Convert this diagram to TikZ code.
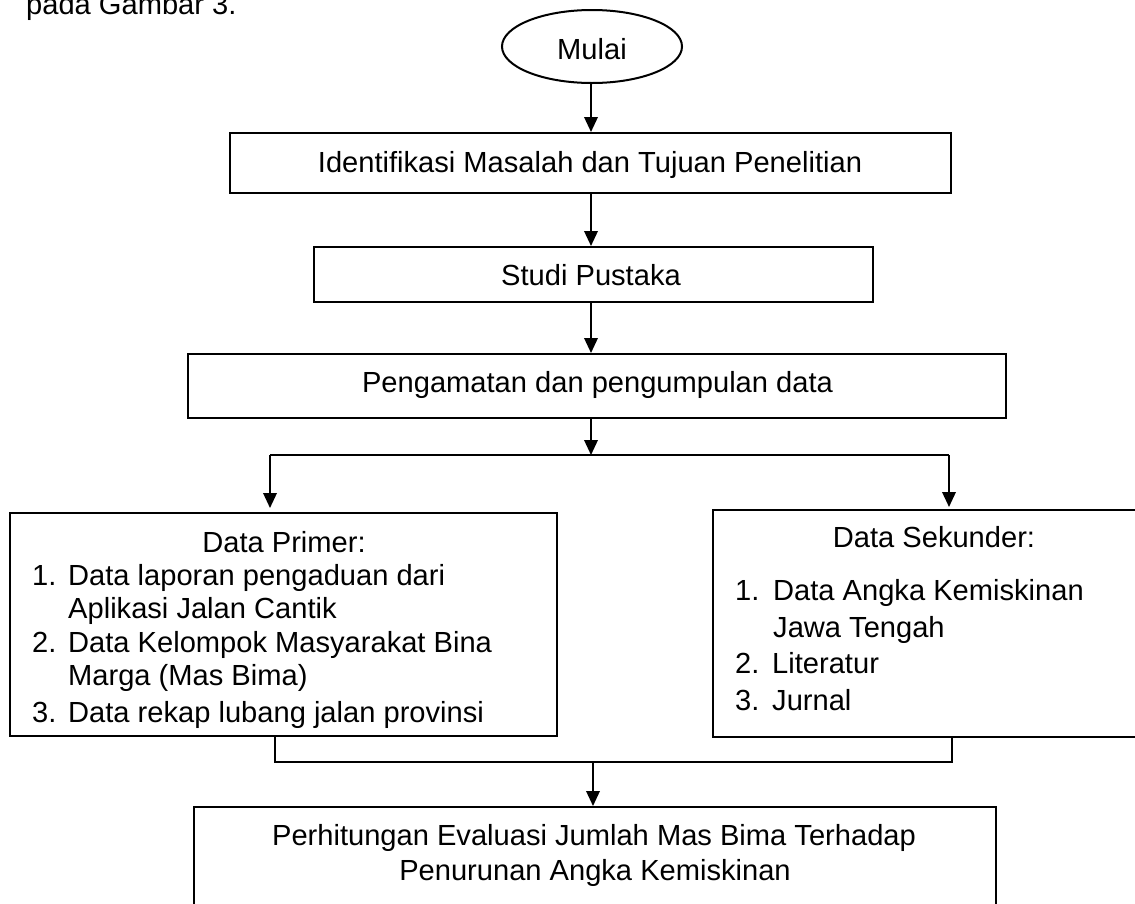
\documentclass[tikz,border=0pt]{standalone}
\usepackage{fontspec}
\setmainfont{Liberation Sans}
\usetikzlibrary{arrows.meta,shapes.geometric}
\begin{document}
\begin{tikzpicture}[x=1pt,y=-1pt,
  every node/.style={font=\fontsize{29.1}{35}\selectfont},
  box/.style={draw,line width=2pt,rectangle,inner sep=0pt},
  txt/.style={inner sep=0pt,anchor=base},
  itm/.style={inner sep=0pt,anchor=base west},
  arr/.style={line width=2pt,-{Triangle[length=15pt,width=13.5pt]}},
  ln/.style={line width=1.4pt},
  hl/.style={line width=2pt}]
\clip (0,0) rectangle (1135,903);
\fill[white] (0,0) rectangle (1135,903);

% title fragment
\node[itm] (t0) at (26,14) {pada Gambar 3.};

% start
\node[draw,ellipse,line width=2pt,minimum width=180pt,minimum height=73pt,inner sep=0pt] (e) at (592,46.5) {};
\node[txt] (et) at (592,59) {Mulai};

% boxes
\node[box,minimum width=721pt,minimum height=60pt] (b1) at (590.5,163) {};
\node[txt] (b1t) at (590,172) {Identifikasi Masalah dan Tujuan Penelitian};

\node[box,minimum width=559pt,minimum height=55pt] (b2) at (593.5,274.5) {};
\node[txt] (b2t) at (591,285) {Studi Pustaka};

\node[box,minimum width=818pt,minimum height=64pt] (b3) at (597,386) {};
\node[txt] (b3t) at (597.5,392) {Pengamatan dan pengumpulan data};

\node[box,minimum width=547pt,minimum height=223pt] (pL) at (283.5,624.5) {};
\node[txt] (pLt) at (284,552) {Data Primer:};
\node[itm] (p1n) at (32,585) {1.};
\node[itm] (p1a) at (68,585) {Data laporan pengaduan dari};
\node[itm] (p1b) at (68,618) {Aplikasi Jalan Cantik};
\node[itm] (p2n) at (32,652) {2.};
\node[itm] (p2a) at (68,652) {Data Kelompok Masyarakat Bina};
\node[itm] (p2b) at (68,685) {Marga (Mas Bima)};
\node[itm] (p3n) at (32,722) {3.};
\node[itm] (p3a) at (68,722) {Data rekap lubang jalan provinsi};

\node[box,minimum width=442pt,minimum height=227pt] (sK) at (934,623.5) {};
\node[txt] (sKt) at (934,547) {Data Sekunder:};
\node[itm] (s1n) at (735,600) {1.};
\node[itm] (s1a) at (773,600) {Data Angka Kemiskinan};
\node[itm] (s1b) at (773,637) {Jawa Tengah};
\node[itm] (s2n) at (735,673) {2.};
\node[itm] (s2a) at (772,673) {Literatur};
\node[itm] (s3n) at (735,710) {3.};
\node[itm] (s3a) at (772,710) {Jurnal};

\node[box,minimum width=802pt,minimum height=146pt] (bB) at (595,880) {};
\node[txt] (bB1) at (594,845) {Perhitungan Evaluasi Jumlah Mas Bima Terhadap};
\node[txt] (bB2) at (595,880) {Penurunan Angka Kemiskinan};

% connectors
\coordinate (ax) at (591,0);
\coordinate (j) at (591,455);
\coordinate (jl) at (270,455);
\coordinate (jr) at (949,455);
\coordinate (ml) at (275,762);
\coordinate (mr) at (952,762);
\coordinate (mj) at (593,762);

\draw[arr] (e.south -| ax) -- (b1.north -| ax);
\draw[arr] (b1.south -| ax) -- (b2.north -| ax);
\draw[arr] (b2.south -| ax) -- (b3.north -| ax);
\draw[arr] (b3.south -| ax) -- (j);
\draw[hl] (jl) -- (jr);
\draw[arr,shorten >=4pt] (jl) -- (jl |- pL.north);
\draw[arr,shorten >=2pt] (jr) -- (jr |- sK.north);
\draw[ln] (ml |- pL.south) -- (ml) -- (mr) -- (mr |- sK.south);
\draw[arr] (mj) -- (mj |- bB.north);
\end{tikzpicture}
\end{document}
